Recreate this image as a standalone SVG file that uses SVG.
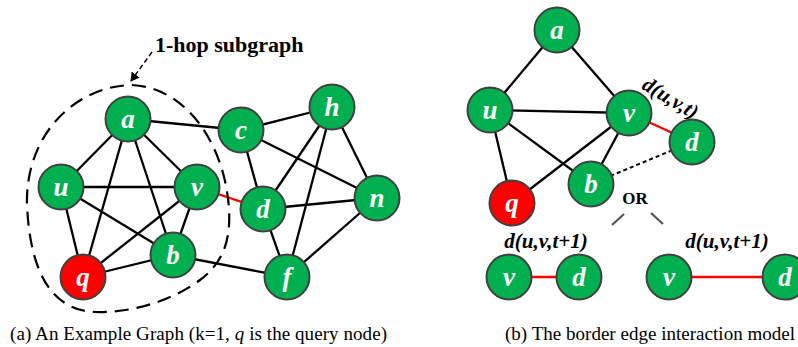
<svg xmlns="http://www.w3.org/2000/svg" width="798" height="347" viewBox="0 0 798 347">
  <defs>
    <style>
      .node { fill: #00b050; stroke: #404040; stroke-width: 2; }
      .query { fill: #ff0000; stroke: #404040; stroke-width: 2; }
      .serif { font-family: "Liberation Serif", "DejaVu Serif", serif; }
      .lbl { font-weight: bold; font-style: italic; font-size: 27px; fill: #ffffff; text-anchor: middle; }
      .edge { stroke: #000000; stroke-width: 2.3; fill: none; }
      .border { stroke: #ff0000; stroke-width: 2.3; fill: none; }
      .dotted { stroke: #000000; stroke-width: 2; stroke-dasharray: 4 3; fill: none; }
      .hull { stroke: #000000; stroke-width: 2.2; stroke-dasharray: 14 8; fill: none; }
      .expr { font-weight: bold; font-style: italic; font-size: 21px; fill: #000000; }
      .bold { font-weight: bold; fill: #000000; }
      .caption { font-size: 19px; fill: #000000; }
      .branch { stroke: #555555; stroke-width: 2.2; }
    </style>
    <marker id="tip" markerWidth="10" markerHeight="10" refX="8" refY="5" orient="auto" markerUnits="userSpaceOnUse">
      <path d="M0,0 L9,5 L0,10 Z" fill="#000000"/>
    </marker>
  </defs>

  <rect width="798" height="347" fill="#ffffff"/>

  <g font-family="Liberation Serif, DejaVu Serif, serif" class="serif">
  <!-- (a) example graph -->
  <g id="connectors-a">
    <line class="edge" x1="128" y1="119" x2="61" y2="187"/>
    <line class="edge" x1="128" y1="119" x2="197" y2="187"/>
    <line class="edge" x1="128" y1="119" x2="83" y2="277"/>
    <line class="edge" x1="128" y1="119" x2="173" y2="255"/>
    <line class="edge" x1="128" y1="119" x2="241" y2="130"/>
    <line class="edge" x1="61" y1="187" x2="197" y2="187"/>
    <line class="edge" x1="61" y1="187" x2="83" y2="277"/>
    <line class="edge" x1="61" y1="187" x2="173" y2="255"/>
    <line class="edge" x1="197" y1="187" x2="83" y2="277"/>
    <line class="edge" x1="197" y1="187" x2="173" y2="255"/>
    <line class="border" x1="197" y1="187" x2="263" y2="209"/>
    <line class="edge" x1="83" y1="277" x2="173" y2="255"/>
    <line class="edge" x1="173" y1="255" x2="287" y2="277"/>
    <line class="edge" x1="241" y1="130" x2="332" y2="107"/>
    <line class="edge" x1="241" y1="130" x2="263" y2="209"/>
    <line class="edge" x1="241" y1="130" x2="377" y2="198"/>
    <line class="edge" x1="332" y1="107" x2="263" y2="209"/>
    <line class="edge" x1="332" y1="107" x2="287" y2="277"/>
    <line class="edge" x1="332" y1="107" x2="377" y2="198"/>
    <line class="edge" x1="263" y1="209" x2="377" y2="198"/>
    <line class="edge" x1="263" y1="209" x2="287" y2="277"/>
    <line class="edge" x1="377" y1="198" x2="287" y2="277"/>
  </g>

  <!-- dashed outline of the 1-hop neighbourhood -->
  <path class="hull" d="M132,85 C190,88 226,150 229,210 C231,245 220,265 200,280 C170,302 130,313 95,312 C50,310 30,270 27,205 C25,135 75,86 132,85 Z"/>
  <line x1="152" y1="52" x2="131" y2="81" stroke="#000000" stroke-width="1.4" stroke-dasharray="5 3" marker-end="url(#tip)"/>
  <text class="bold" x="155" y="52" font-size="22">1-hop subgraph</text>

  <g id="a-node-a"><circle class="node" cx="128" cy="119" r="22.5"/><text class="lbl" x="128" y="128">a</text></g>
  <g id="a-node-u"><circle class="node" cx="61" cy="187" r="22.5"/><text class="lbl" x="61" y="196">u</text></g>
  <g id="a-node-v"><circle class="node" cx="197" cy="187" r="22.5"/><text class="lbl" x="197" y="196">v</text></g>
  <g id="a-node-q"><circle class="query" cx="83" cy="277" r="22.5"/><text class="lbl" x="83" y="286">q</text></g>
  <g id="a-node-b"><circle class="node" cx="173" cy="255" r="22.5"/><text class="lbl" x="173" y="264">b</text></g>
  <g id="a-node-c"><circle class="node" cx="241" cy="130" r="22.5"/><text class="lbl" x="241" y="139">c</text></g>
  <g id="a-node-h"><circle class="node" cx="332" cy="107" r="22.5"/><text class="lbl" x="332" y="116">h</text></g>
  <g id="a-node-d"><circle class="node" cx="263" cy="209" r="22.5"/><text class="lbl" x="263" y="218">d</text></g>
  <g id="a-node-n"><circle class="node" cx="377" cy="198" r="22.5"/><text class="lbl" x="377" y="207">n</text></g>
  <g id="a-node-f"><circle class="node" cx="287" cy="277" r="22.5"/><text class="lbl" x="287" y="286">f</text></g>

  <text class="caption" x="10" y="340" textLength="377" lengthAdjust="spacing">(a) An Example Graph (k=1, <tspan font-style="italic">q</tspan> is the query node)</text>

  <!-- (b) border edge interaction model -->
  <g id="connectors-b">
    <line class="edge" x1="557" y1="30" x2="490" y2="110"/>
    <line class="edge" x1="557" y1="30" x2="629" y2="113"/>
    <line class="edge" x1="490" y1="110" x2="629" y2="113"/>
    <line class="edge" x1="490" y1="110" x2="512" y2="203"/>
    <line class="edge" x1="490" y1="110" x2="591" y2="184"/>
    <line class="edge" x1="629" y1="113" x2="512" y2="203"/>
    <line class="edge" x1="629" y1="113" x2="591" y2="184"/>
    <line class="border" x1="629" y1="113" x2="692" y2="142"/>
    <line class="dotted" x1="591" y1="184" x2="692" y2="142"/>
    <line class="branch" x1="612" y1="225" x2="624" y2="214"/>
    <line class="branch" x1="651" y1="213" x2="663" y2="224"/>
    <line class="border" x1="509" y1="277" x2="579" y2="277"/>
    <line class="border" x1="669" y1="277" x2="785" y2="277"/>
  </g>

  <g id="b-node-a"><circle class="node" cx="557" cy="30" r="22.5"/><text class="lbl" x="557" y="39">a</text></g>
  <g id="b-node-u"><circle class="node" cx="490" cy="110" r="22.5"/><text class="lbl" x="490" y="119">u</text></g>
  <g id="b-node-v"><circle class="node" cx="629" cy="113" r="22.5"/><text class="lbl" x="629" y="122">v</text></g>
  <g id="b-node-d"><circle class="node" cx="692" cy="142" r="22.5"/><text class="lbl" x="692" y="151">d</text></g>
  <g id="b-node-b"><circle class="node" cx="591" cy="184" r="22.5"/><text class="lbl" x="591" y="193">b</text></g>
  <g id="b-node-q"><circle class="query" cx="512" cy="203" r="22.5"/><text class="lbl" x="512" y="212">q</text></g>

  <text class="expr" text-anchor="middle" transform="translate(667,104) rotate(31)">d(u,v,t)</text>
  <text class="bold" x="635" y="204" font-size="17" text-anchor="middle">OR</text>

  <text class="expr" x="546" y="248" text-anchor="middle">d(u,v,t+1)</text>
  <g id="b-node-v1"><circle class="node" cx="509" cy="277" r="22.5"/><text class="lbl" x="509" y="286">v</text></g>
  <g id="b-node-d1"><circle class="node" cx="579" cy="277" r="22.5"/><text class="lbl" x="579" y="286">d</text></g>

  <text class="expr" x="727" y="248" text-anchor="middle">d(u,v,t+1)</text>
  <g id="b-node-v2"><circle class="node" cx="669" cy="277" r="22.5"/><text class="lbl" x="669" y="286">v</text></g>
  <g id="b-node-d2"><circle class="node" cx="785" cy="277" r="22.5"/><text class="lbl" x="785" y="286">d</text></g>

  <text class="caption" x="505" y="340" textLength="290" lengthAdjust="spacing">(b) The border edge interaction model</text>
  </g>
</svg>
